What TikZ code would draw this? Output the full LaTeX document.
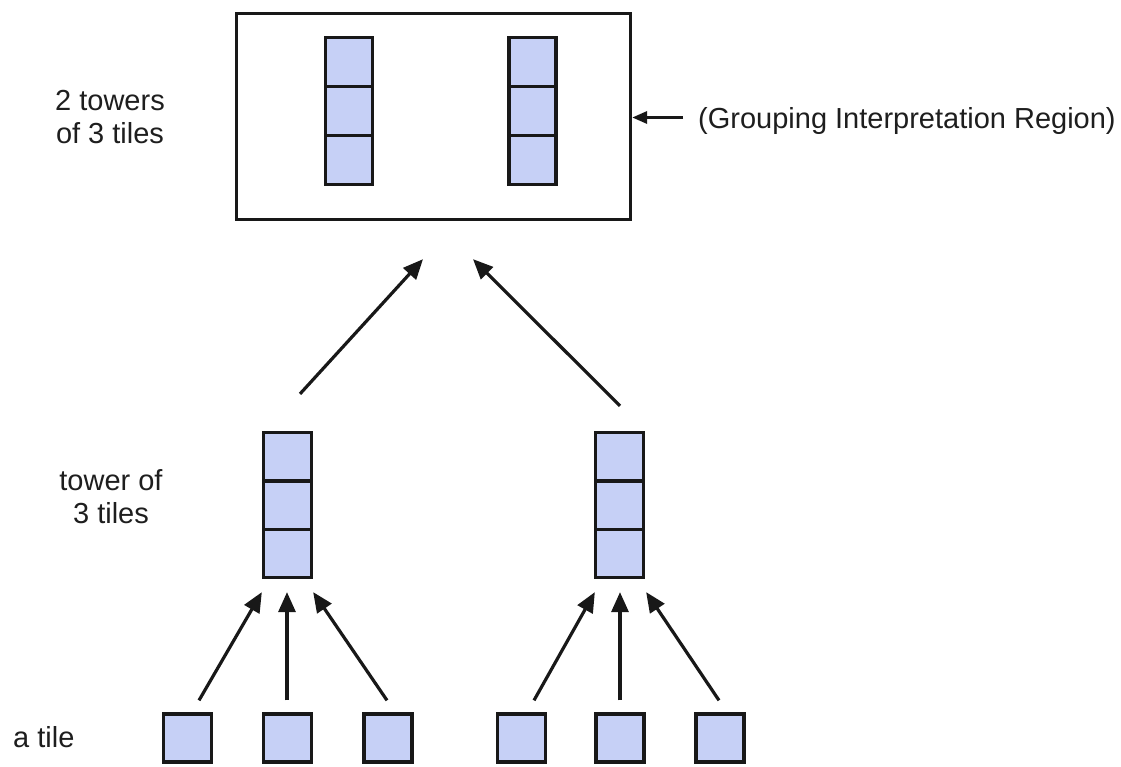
\documentclass[tikz,border=0pt]{standalone}
\usepackage{fontspec}
\setmainfont{Liberation Sans}
\usetikzlibrary{arrows.meta}
\definecolor{tilefill}{RGB}{198,208,246}
\definecolor{inkline}{RGB}{24,24,24}
\definecolor{inktext}{RGB}{30,30,30}
\tikzset{
  tile/.style={rectangle, draw=inkline, fill=tilefill, line width=3.3pt, inner sep=0pt,
    minimum width=48pt, minimum height=48pt},
  ttile/.style={tile, minimum width=47pt, minimum height=49pt},
  btile/.style={tile, minimum width=48pt, minimum height=48.3pt},
  region/.style={rectangle, draw=inkline, line width=3.3pt, inner sep=0pt,
    minimum width=394pt, minimum height=206pt},
  arr/.style={draw=inkline, line width=3.2pt, -{Triangle[length=20pt,width=17pt]}},
  smallarr/.style={draw=inkline, line width=3.2pt, -{Triangle[length=15pt,width=12pt]}},
  lbl/.style={text=inktext, font=\fontsize{29}{33}\selectfont, inner sep=0pt, align=center},
}
\begin{document}
\begin{tikzpicture}[x=1pt,y=-1pt]
\useasboundingbox (0,0) rectangle (1121,766);

% grouping region
\node[region] (box) at (433.5,116.5) {};
\node[ttile] (Lt1) at (349,62) {};
\node[ttile] (Lt2) at (349,111) {};
\node[ttile] (Lt3) at (349,160) {};
\node[ttile] (Rt1) at (532.5,62) {};
\node[ttile] (Rt2) at (532.5,111) {};
\node[ttile] (Rt3) at (532.5,160) {};

% towers
\node[btile] (lt) at (287.5,456.7) {};
\node[btile] (lm) at (287.5,505) {};
\node[btile] (lb) at (287.5,553.3) {};
\node[btile] (rt) at (619.5,456.7) {};
\node[btile] (rm) at (619.5,505) {};
\node[btile] (rb) at (619.5,553.3) {};

% single tiles
\node[tile] (t1) at (187.5,738) {};
\node[tile] (t2) at (287.5,738) {};
\node[tile] (t3) at (388,738) {};
\node[tile] (t4) at (521.5,738) {};
\node[tile] (t5) at (620,738) {};
\node[tile] (t6) at (720,738) {};

% labels (anchor base = baseline of the last line)
\node[lbl, anchor=base] (lab1) at (110,143) {2 towers\\of 3 tiles};
\node[lbl, anchor=base] (lab2) at (111,523) {tower of\\3 tiles};
\node[lbl, anchor=base west] (lab3) at (13,747) {a tile};
\node[lbl, anchor=base west] (lab4) at (698,128) {(Grouping Interpretation Region)};

% arrows tiles -> towers
\draw[arr] ([shift={(11.5,-12)}]t1.north) -- ([shift={(0,13)}]lb.south west);
\draw[arr] ([shift={(-0.5,-12)}]t2.north) -- ([shift={(-0.5,13)}]lb.south);
\draw[arr] ([shift={(-1,-12)}]t3.north) -- ([shift={(0,13)}]lb.south east);
\draw[arr] ([shift={(12.5,-12)}]t4.north) -- ([shift={(1,13)}]rb.south west);
\draw[arr] ([shift={(0,-12)}]t5.north) -- ([shift={(0.5,13)}]rb.south);
\draw[arr] ([shift={(-1,-12)}]t6.north) -- ([shift={(1,13)}]rb.south east);

% arrows towers -> region
\draw[arr] ([shift={(12.5,-37)}]lt.north) -- ([shift={(-10.5,38)}]box.south);
\draw[arr] ([shift={(0.5,-25)}]rt.north) -- ([shift={(39.5,38)}]box.south);

% pointer to region
\draw[smallarr] ([shift={(51,1)}]box.east) -- ([shift={(0,1)}]box.east);
\end{tikzpicture}
\end{document}
